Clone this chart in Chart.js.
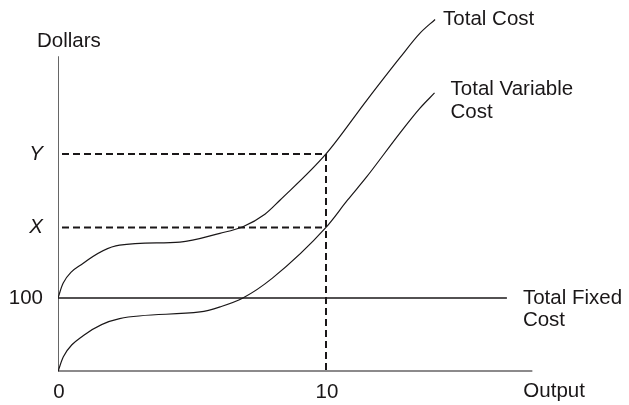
<!DOCTYPE html>
<html>
<head>
<meta charset="utf-8">
<script src="https://cdn.jsdelivr.net/npm/chart.js@4"></script>
<style>
  body { margin: 0; background: #fff; }
  #wrap { width: 629px; height: 405px; }
</style>
</head>
<body>
<div id="wrap"><canvas id="chart" width="629" height="405"></canvas></div>
<script>
// values (output units, dollars)
const tvcX = [0, 0.2, 0.95, 2.3, 5.3, 6.05, 6.9, 8.0, 10, 10.8, 11.5, 12.75, 13.5, 14.05]
const tvcY = [0, 20, 49, 72, 81, 88, 100, 127, 196, 233, 264, 324, 358, 379]
const tcX = [0, 0.19, 0.93, 2.3, 4.55, 6.04, 6.9, 7.72, 8.28, 10, 11.52, 12.76, 13.5, 14.07]
const tcY = [100, 120, 147, 172, 176, 188, 197, 214, 233, 296, 369, 427, 460, 479]
const fixedCost = 100
const fixedEnd = 16.75
const outputQ = 10
const levelX = 196
const levelY = 296
const axisXEnd = 17.7
const axisYEnd = 429

const xTicks = [{ value: 0, label: "0" }, { value: 10, label: "10" }]
const yTicks = [{ value: 100, label: "100", italic: false }, { value: levelX, label: "X", italic: true }, { value: levelY, label: "Y", italic: true }]

const ink = "#1a1718"
const font = "20.5px 'Liberation Sans', Arial, sans-serif"
const pts = (xs, ys) => xs.map((x, i) => ({ x: x, y: ys[i] }))

const labelsPlugin = {
  id: "labels",
  afterDatasetsDraw(chart) {
    const { ctx, scales: { x, y } } = chart
    ctx.save()
    ctx.fillStyle = ink
    ctx.textBaseline = "middle"
    ctx.font = font

    ctx.textAlign = "center"
    xTicks.forEach(t => ctx.fillText(t.label, x.getPixelForValue(t.value) + 1, y.getPixelForValue(0) + 21))

    ctx.textAlign = "right"
    yTicks.forEach(t => {
      ctx.font = (t.italic ? "italic " : "") + font
      ctx.fillText(t.label, 43, y.getPixelForValue(t.value))
    })

    ctx.font = font
    ctx.textAlign = "left"
    ctx.fillText("Dollars", 37, y.getPixelForValue(axisYEnd) - 15)
    ctx.fillText("Output", x.getPixelForValue(axisXEnd) - 9, y.getPixelForValue(0) + 20)

    const tcEnd = tcX.length - 1
    ctx.fillText("Total Cost", x.getPixelForValue(tcX[tcEnd]) + 8, y.getPixelForValue(tcY[tcEnd]))

    const tvEnd = tvcX.length - 1
    const tvx = x.getPixelForValue(tvcX[tvEnd]) + 16
    const tvy = y.getPixelForValue(tvcY[tvEnd]) - 4
    ctx.fillText("Total Variable", tvx, tvy)
    ctx.fillText("Cost", tvx, tvy + 23)

    const fx = x.getPixelForValue(fixedEnd) + 16
    const fy = y.getPixelForValue(fixedCost)
    ctx.fillText("Total Fixed", fx, fy)
    ctx.fillText("Cost", fx, fy + 22)
    ctx.restore()
  }
}

const line = (data, color, width, extra) => Object.assign({
  data: data,
  borderColor: color,
  borderWidth: width,
  pointRadius: 0,
  fill: false,
  tension: 0
}, extra || {})

new Chart(document.getElementById("chart"), {
  type: "line",
  data: {
    datasets: [
      line([{ x: 0.15, y: levelY }, { x: outputQ, y: levelY }, { x: outputQ, y: 0 }], ink, 2, { borderDash: [7, 4] }),
      line([{ x: 0.15, y: levelX }, { x: outputQ, y: levelX }], ink, 2, { borderDash: [7, 4] }),
      line([{ x: 0, y: fixedCost }, { x: fixedEnd, y: fixedCost }], ink, 1.5),
      line(pts(tcX, tcY), ink, 1.2, { cubicInterpolationMode: "monotone" }),
      line(pts(tvcX, tvcY), ink, 1.2, { cubicInterpolationMode: "monotone" }),
      line([{ x: 0, y: 0 }, { x: axisXEnd, y: 0 }], ink, 2),
      line([{ x: 0, y: 0 }, { x: 0, y: axisYEnd }], "#666", 2)
    ]
  },
  options: {
    responsive: false,
    animation: false,
    events: [],
    layout: { padding: { left: 58, right: 35, top: 4, bottom: 33.5 } },
    plugins: { legend: { display: false }, tooltip: { enabled: false } },
    scales: {
      x: { type: "linear", min: 0, max: 20, display: false },
      y: { type: "linear", min: 0, max: 500, display: false }
    }
  },
  plugins: [labelsPlugin]
})
</script>
</body>
</html>
